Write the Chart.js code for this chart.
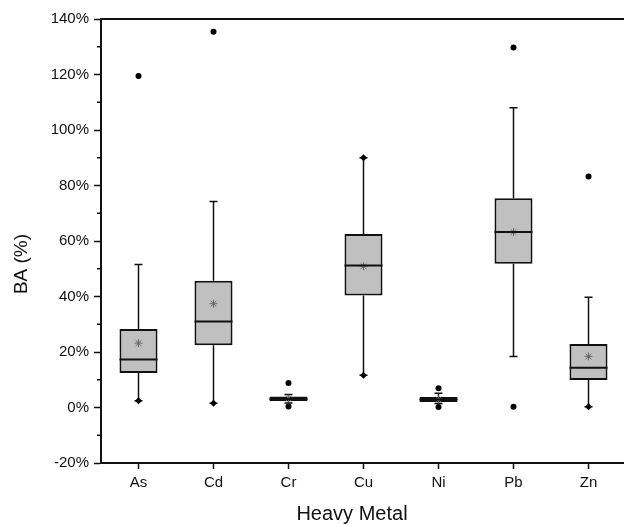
<!DOCTYPE html>
<html>
<head>
<meta charset="utf-8">
<script src="https://cdn.jsdelivr.net/npm/chart.js@4"></script>
<style>
  html, body { margin: 0; padding: 0; background: #fff; overflow: hidden; width: 624px; height: 524px; }
  #wrap { position: relative; width: 624px; height: 524px; overflow: hidden; }
  #canvas-box { position: absolute; left: 0; top: 0; }
</style>
</head>
<body>
<div id="wrap"><canvas id="canvas-box" width="631" height="524"></canvas></div>
<script>
const metals = ["As", "Cd", "Cr", "Cu", "Ni", "Pb", "Zn"];
const q1 = [12.4, 22.4, 2.3, 40.4, 2.0, 51.8, 9.9];
const median = [17.3, 31.0, 3.1, 51.2, 2.9, 63.2, 14.3];
const q3 = [28.3, 45.7, 4.0, 62.5, 3.8, 75.4, 22.9];
const whiskerLow = [2.4, 1.5, 1.6, 11.6, 1.4, 18.4, 0.3];
const whiskerHigh = [51.5, 74.2, 4.7, 90.0, 5.1, 108.0, 39.7];
const means = [23.2, 37.4, 3.2, 50.9, 2.9, 63.2, 18.4];
const outliers = [
    {x: "As", y: 119.5},
    {x: "Cd", y: 135.4},
    {x: "Cr", y: 8.8},
    {x: "Cr", y: 0.4},
    {x: "Ni", y: 6.9},
    {x: "Ni", y: 0.2},
    {x: "Pb", y: 129.7},
    {x: "Pb", y: 0.3},
    {x: "Zn", y: 83.2},
];
// whisker ends that carry a diamond marker
const endMarks = [
    {x: "As", y: 2.4},
    {x: "Cd", y: 1.5},
    {x: "Cu", y: 90.0},
    {x: "Cu", y: 11.6},
    {x: "Zn", y: 0.3},
];
const yTicks = [-20, 0, 20, 40, 60, 80, 100, 120, 140];

const font = "'Liberation Sans', Arial, Helvetica, sans-serif";

// whiskers, caps, medians, frame, minor ticks and axis titles
const boxExtras = {
    id: "boxExtras",
    beforeDatasetsDraw(chart) {
        const ctx = chart.ctx;
        const xs = chart.scales.x;
        const ys = chart.scales.y;
        ctx.save();
        ctx.strokeStyle = "#111";
        ctx.lineWidth = 1.5;
        for (let i = 0; i < metals.length; i++) {
            const x = xs.getPixelForValue(i);
            ctx.beginPath();
            ctx.moveTo(x, ys.getPixelForValue(q3[i]));
            ctx.lineTo(x, ys.getPixelForValue(whiskerHigh[i]));
            ctx.moveTo(x, ys.getPixelForValue(q1[i]));
            ctx.lineTo(x, ys.getPixelForValue(whiskerLow[i]));
            ctx.moveTo(x - 4, ys.getPixelForValue(whiskerHigh[i]));
            ctx.lineTo(x + 4, ys.getPixelForValue(whiskerHigh[i]));
            ctx.moveTo(x - 4, ys.getPixelForValue(whiskerLow[i]));
            ctx.lineTo(x + 4, ys.getPixelForValue(whiskerLow[i]));
            ctx.stroke();
        }
        ctx.restore();
    },
    afterDatasetsDraw(chart) {
        const ctx = chart.ctx;
        const xs = chart.scales.x;
        const ys = chart.scales.y;
        const bars = chart.getDatasetMeta(0).data;
        ctx.save();
        ctx.strokeStyle = "#111";
        ctx.lineWidth = 2;
        for (let i = 0; i < metals.length; i++) {
            const x = xs.getPixelForValue(i);
            const half = bars[i].width / 2;
            const y = ys.getPixelForValue(median[i]);
            ctx.beginPath();
            ctx.moveTo(x - half, y);
            ctx.lineTo(x + half, y);
            ctx.stroke();
        }
        ctx.restore();
    },
    afterDraw(chart) {
        const ctx = chart.ctx;
        const a = chart.chartArea;
        const ys = chart.scales.y;
        ctx.save();
        ctx.strokeStyle = "#111";
        ctx.lineWidth = 2;
        ctx.beginPath();
        ctx.moveTo(a.left, a.top);
        ctx.lineTo(a.right, a.top);
        ctx.lineTo(a.right, a.bottom);
        ctx.stroke();
        // minor ticks
        ctx.lineWidth = 1.5;
        for (let v = -10; v < 140; v += 20) {
            const y = ys.getPixelForValue(v);
            ctx.beginPath();
            ctx.moveTo(a.left - 4, y);
            ctx.lineTo(a.left, y);
            ctx.stroke();
        }
        // axis titles
        ctx.fillStyle = "#111";
        ctx.font = "20px " + font;
        ctx.textAlign = "center";
        ctx.textBaseline = "alphabetic";
        ctx.fillText("Heavy Metal", 352, 520);
        ctx.translate(27, 264);
        ctx.rotate(-Math.PI / 2);
        ctx.font = "19px " + font;
        ctx.fillText("BA (%)", 0, 0);
        ctx.restore();
    }
};

const chartCanvas = document.getElementById("canvas-box");

const chart = new Chart(chartCanvas, {
    type: "bar",
    data: {
        labels: metals,
        datasets: [
            {
                type: "bar",
                label: "IQR",
                data: metals.map((m, i) => [q1[i], q3[i]]),
                backgroundColor: "#c0c0c0",
                borderColor: "#111",
                borderWidth: 2,
                borderSkipped: false,
                categoryPercentage: 1,
                barPercentage: 0.507,
                order: 3,
            },
            {
                type: "line",
                label: "Mean",
                data: means,
                showLine: false,
                pointStyle: "star",
                pointRadius: 4,
                borderColor: "#666",
                backgroundColor: "#666",
                borderWidth: 1,
                order: 1,
            },
            {
                type: "line",
                label: "Outliers",
                data: outliers,
                showLine: false,
                pointStyle: "circle",
                pointRadius: 3,
                borderColor: "#000",
                backgroundColor: "#000",
                borderWidth: 0,
                order: 1,
            },
            {
                type: "line",
                label: "Ends",
                data: endMarks,
                showLine: false,
                pointStyle: "rectRot",
                pointRadius: 3.5,
                borderColor: "#000",
                backgroundColor: "#000",
                borderWidth: 0,
                order: 1,
            },
        ],
    },
    options: {
        responsive: false,
        animation: false,
        layout: {
            padding: {top: 19, right: 2, left: 0, bottom: 0},
        },
        plugins: {
            legend: {display: false},
            tooltip: {enabled: false},
        },
        scales: {
            x: {
                type: "category",
                offset: true,
                grid: {
                    offset: false,
                    drawOnChartArea: false,
                    drawTicks: true,
                    tickLength: 6,
                    tickColor: "#111",
                    tickWidth: 1.5,
                },
                border: {display: true, color: "#111", width: 2},
                ticks: {
                    color: "#111",
                    padding: 5,
                    font: {family: font, size: 15},
                    maxRotation: 0,
                },
                afterFit(scale) {
                    scale.height = 61;
                },
            },
            y: {
                min: -20,
                max: 140,
                afterBuildTicks(scale) {
                    scale.ticks = yTicks.map(v => ({value: v}));
                },
                grid: {
                    drawOnChartArea: false,
                    drawTicks: true,
                    tickLength: 7,
                    tickColor: "#111",
                    tickWidth: 1.5,
                },
                border: {display: true, color: "#111", width: 2},
                ticks: {
                    color: "#111",
                    padding: 5,
                    font: {family: font, size: 15},
                    callback: v => v + "%",
                },
                afterFit(scale) {
                    scale.width = 101;
                },
            },
        },
    },
    plugins: [boxExtras],
});
</script>
</body>
</html>
